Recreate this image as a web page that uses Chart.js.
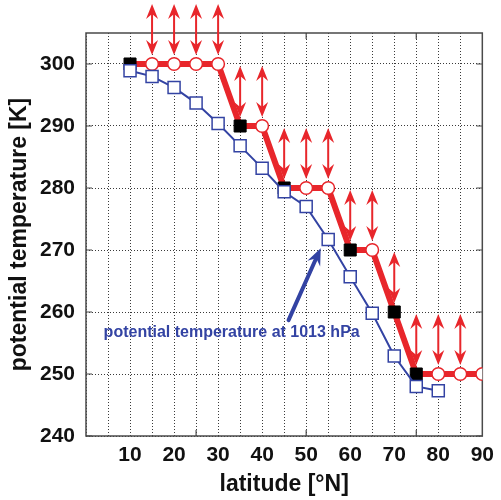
<!DOCTYPE html>
<html>
<head>
<meta charset="utf-8">
<script src="https://cdn.jsdelivr.net/npm/chart.js@4/dist/chart.umd.min.js"></script>
<style>
  html, body { margin: 0; padding: 0; background: #fff; }
  #wrap { width: 501px; height: 500px; position: relative; }
</style>
</head>
<body>
<div id="wrap"><canvas id="c" width="501" height="500"></canvas></div>
<script>
// Latitudes (°N) of the stepped potential-temperature profile
const stepLatitudes = [10, 15, 20, 25, 30, 35, 40, 45, 50, 55, 60, 65, 70, 75, 80, 85, 90];
// Potential temperature (K) of the stepped profile
const stepTheta = [300, 300, 300, 300, 300, 290, 290, 280, 280, 280, 270, 270, 260, 250, 250, 250, 250];
// Which points of the stepped profile are solid squares (others are open circles)
const stepSolid = [true, false, false, false, false, true, false, true, false, false, true, false, true, true, false, false, false];
// Latitudes where the profile may move up or down (double arrows)
const arrowLatitudes = [15, 20, 25, 30, 35, 40, 45, 50, 55, 60, 65, 70, 75, 80, 85];

// Potential temperature at 1013 hPa
const surfaceLatitudes = [10, 15, 20, 25, 30, 35, 40, 45, 50, 55, 60, 65, 70, 75, 80];
const surfaceTheta = [298.9, 298.0, 296.2, 293.7, 290.4, 286.8, 283.2, 279.4, 277.0, 271.7, 265.7, 259.8, 252.9, 248.0, 247.3];

// Axis ticks
const xTickLabels = [10, 20, 30, 40, 50, 60, 70, 80, 90];
const yTickValues = [240, 250, 260, 270, 280, 290, 300];
const xFrameTicks = [25, 50, 75];

const RED = '#e8262b';
const BLUE = '#3343a3';
const FONT = "'Liberation Sans', Arial, Helvetica, sans-serif";

function drawArrowHead(ctx, tx, ty, dx, dy, len, half, notch) {
  // (dx, dy) is the unit direction the arrow points to
  const px = -dy, py = dx;
  ctx.beginPath();
  ctx.moveTo(tx, ty);
  ctx.lineTo(tx - dx * len + px * half, ty - dy * len + py * half);
  ctx.lineTo(tx - dx * notch, ty - dy * notch);
  ctx.lineTo(tx - dx * len - px * half, ty - dy * len - py * half);
  ctx.closePath();
  ctx.fill();
}

const framePlugin = {
  id: 'frame',
  beforeDatasetsDraw(chart) {
    const { ctx, chartArea: a, scales: { x, y } } = chart;
    ctx.save();
    ctx.strokeStyle = '#4a4a4a';
    ctx.lineWidth = 1.5;
    ctx.strokeRect(a.left, a.top, a.right - a.left, a.bottom - a.top);
    ctx.lineWidth = 1.2;
    ctx.beginPath();
    xFrameTicks.forEach(v => {
      const px = x.getPixelForValue(v);
      ctx.moveTo(px, a.bottom); ctx.lineTo(px, a.bottom - 6);
      ctx.moveTo(px, a.top); ctx.lineTo(px, a.top + 6);
    });
    yTickValues.forEach(v => {
      const py = y.getPixelForValue(v);
      ctx.moveTo(a.left, py); ctx.lineTo(a.left + 6, py);
      ctx.moveTo(a.right, py); ctx.lineTo(a.right - 6, py);
    });
    ctx.stroke();
    ctx.restore();
  }
};

const annotationPlugin = {
  id: 'notes',
  afterDatasetsDraw(chart) {
    const { ctx, scales: { x, y } } = chart;
    ctx.save();
    // vertical double arrows above the stepped profile
    ctx.fillStyle = RED;
    ctx.strokeStyle = RED;
    arrowLatitudes.forEach(lat => {
      const i = stepLatitudes.indexOf(lat);
      const px = x.getPixelForValue(lat);
      const py = y.getPixelForValue(stepTheta[i]);
      const bottom = py - 9, top = py - 60;
      ctx.lineWidth = 2;
      ctx.beginPath();
      ctx.moveTo(px, bottom - 8);
      ctx.lineTo(px, top + 8);
      ctx.stroke();
      drawArrowHead(ctx, px, top, 0, -1, 15, 6, 10);
      drawArrowHead(ctx, px, bottom, 0, 1, 15, 6, 10);
    });

    // label and pointer for the 1013 hPa curve
    ctx.fillStyle = BLUE;
    ctx.strokeStyle = BLUE;
    ctx.font = "bold 16px " + FONT;
    ctx.textBaseline = 'alphabetic';
    ctx.textAlign = 'left';
    ctx.fillText('potential temperature at 1013 hPa', x.getPixelForValue(4), y.getPixelForValue(255.9));

    const x0 = x.getPixelForValue(46.0), y0 = y.getPixelForValue(258.7);
    const x1 = x.getPixelForValue(53.3), y1 = y.getPixelForValue(270.3);
    const len = Math.hypot(x1 - x0, y1 - y0);
    const dx = (x1 - x0) / len, dy = (y1 - y0) / len;
    ctx.lineWidth = 4;
    ctx.lineCap = 'round';
    ctx.beginPath();
    ctx.moveTo(x0, y0);
    ctx.lineTo(x1 - dx * 10, y1 - dy * 10);
    ctx.stroke();
    drawArrowHead(ctx, x1, y1, dx, dy, 17, 7, 11);
    ctx.restore();
  }
};

const gridStyle = { color: '#3a3a3a', lineWidth: 1, drawTicks: false };
const borderStyle = { display: false, dash: [1, 2] };

new Chart(document.getElementById('c'), {
  type: 'line',
  data: {
    datasets: [
      {
        label: 'potential temperature at 1013 hPa',
        data: surfaceLatitudes.map((lat, i) => ({ x: lat, y: surfaceTheta[i] })),
        borderColor: BLUE,
        borderWidth: 2,
        pointStyle: 'rect',
        pointRadius: 8.5,
        pointBorderWidth: 1.5,
        pointBorderColor: BLUE,
        pointBackgroundColor: '#ffffff',
        tension: 0
      },
      {
        label: 'potential temperature profile',
        data: stepLatitudes.map((lat, i) => ({ x: lat, y: stepTheta[i] })),
        borderColor: RED,
        borderWidth: 6,
        pointStyle: stepSolid.map(s => s ? 'rect' : 'circle'),
        pointRadius: stepSolid.map(s => s ? 8.5 : 6.3),
        pointBorderWidth: stepSolid.map(s => s ? 1 : 1.5),
        pointBorderColor: stepSolid.map(s => s ? '#000000' : RED),
        pointBackgroundColor: stepSolid.map(s => s ? '#000000' : '#ffffff'),
        tension: 0
      }
    ]
  },
  options: {
    responsive: false,
    animation: false,
    events: [],
    layout: { autoPadding: false, padding: { left: 0, right: 11, top: 33, bottom: 0 } },
    plugins: { legend: { display: false }, tooltip: { enabled: false } },
    scales: {
      x: {
        type: 'linear',
        min: 0, max: 90,
        ticks: {
          stepSize: 5,
          autoSkip: false,
          maxRotation: 0,
          padding: 7,
          color: '#111',
          font: { family: FONT, size: 21, weight: 'bold' },
          callback: v => xTickLabels.includes(v) ? String(v) : ''
        },
        grid: gridStyle,
        border: borderStyle,
        title: {
          display: true,
          text: 'latitude [°N]',
          color: '#111',
          font: { family: FONT, size: 23, weight: 'bold', lineHeight: 1.2 },
          padding: { top: 0, bottom: 2 }
        },
        afterFit: axis => { axis.height = 64; }
      },
      y: {
        type: 'linear',
        min: 240, max: 305,
        afterBuildTicks: axis => { axis.ticks = yTickValues.map(v => ({ value: v })); },
        ticks: {
          padding: 11,
          color: '#111',
          font: { family: FONT, size: 21, weight: 'bold' },
          callback: v => String(v)
        },
        grid: gridStyle,
        border: borderStyle,
        title: {
          display: true,
          text: 'potential temperature [K]',
          color: '#111',
          font: { family: FONT, size: 23, weight: 'bold', lineHeight: 1.2 },
          padding: { top: 6, bottom: 0 }
        },
        afterFit: axis => { axis.width = 86; }
      }
    }
  },
  plugins: [framePlugin, annotationPlugin]
});
</script>
</body>
</html>
